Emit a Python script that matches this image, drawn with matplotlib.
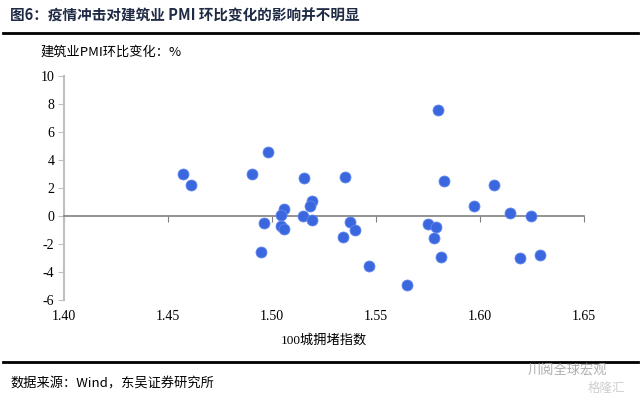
import matplotlib
matplotlib.use("Agg")
import matplotlib.pyplot as plt
from matplotlib.lines import Line2D

plt.rcParams['font.family'] = ['Noto Sans CJK SC', 'DejaVu Sans']

# 100城拥堵指数 vs 建筑业PMI环比变化
congestion = [1.4574, 1.4612, 1.4904, 1.4979, 1.5154, 1.5350, 1.5191, 1.5181,
              1.5060, 1.5045, 1.5148, 1.5191, 1.4963, 1.5042, 1.5060, 1.5377,
              1.5398, 1.5340, 1.4947, 1.5468, 1.5797, 1.5826, 1.6066, 1.5971,
              1.6143, 1.6244, 1.5752, 1.5788, 1.5779, 1.5813, 1.6192, 1.6288,
              1.5651]
pmi_change = [3.0, 2.2, 3.0, 4.6, 2.7, 2.8, 1.1, 0.7,
              0.5, 0.05, 0.0, -0.3, -0.5, -0.7, -0.9, -0.4,
              -1.0, -1.5, -2.6, -3.6, 7.6, 2.5, 2.2, 0.7,
              0.2, 0.0, -0.6, -0.8, -1.6, -2.9, -3.0, -2.8,
              -4.9]
x_ticks = [1.40, 1.45, 1.50, 1.55, 1.60, 1.65]
y_ticks = [-6, -4, -2, 0, 2, 4, 6, 8, 10]

W, H = 641, 397
fig = plt.figure(figsize=(W / 100, H / 100), dpi=100)
ax = fig.add_axes([64 / W, 1 - 300 / H, (584 - 64) / W, (300 - 76) / H])

ax.scatter(congestion, pmi_change, s=62, color='#3A67DE', edgecolors='#5F86F0',
           linewidths=0.6, zorder=3)

ax.set_xlim(1.40, 1.65)
ax.set_ylim(-6, 10)
ax.set_xticks(x_ticks, [f"{v:.2f}" for v in x_ticks])
ax.set_yticks(y_ticks, [str(v) for v in y_ticks])

for s in ['top', 'right']:
    ax.spines[s].set_visible(False)
ax.spines['left'].set_color('#BFBFBF')
ax.spines['left'].set_linewidth(1.5)
ax.spines['bottom'].set_position(('data', 0))
ax.spines['bottom'].set_color('#808080')
ax.spines['bottom'].set_linewidth(1.2)
ax.tick_params(axis='both', labelsize=10, labelfontfamily='Liberation Serif')
ax.tick_params(axis='y', length=4, color='#BFBFBF', pad=3)
ax.tick_params(axis='x', length=4, color='#808080', pad=64)

ax.set_xlabel('100城拥堵指数', fontsize=9.5, labelpad=8,
              family=['Liberation Serif', 'Noto Sans CJK SC'])

# titles, rules and source
fig.text(10 / W, 1 - 16 / H, '图6：疫情冲击对建筑业 PMI 环比变化的影响并不明显',
         fontsize=10.5, fontweight='bold', color='#1F2A44', va='center', ha='left')
fig.add_artist(Line2D([3 / W, 638 / W], [1 - 33 / H, 1 - 33 / H], color='black', lw=2))
fig.text(40 / W, 1 - 52 / H, '建筑业PMI环比变化：%', fontsize=9.5, va='center', ha='left')
fig.add_artist(Line2D([3 / W, 638 / W], [1 - 362 / H, 1 - 362 / H], color='black', lw=2))
fig.text(10 / W, 1 - 384 / H, '数据来源：Wind，东吴证券研究所', fontsize=9.5,
         va='center', ha='left', family=['Noto Sans CJK SC', 'Liberation Serif'])
fig.text(528 / W, 1 - 371 / H, '川阅全球宏观', fontsize=9.5, color='#9A9A9A',
         va='center', ha='left', alpha=0.8)
fig.text(588 / W, 1 - 388 / H, '格隆汇', fontsize=9, color='#BBBBBB',
         va='center', ha='left', alpha=0.7)

fig.savefig('out.png', dpi=100)
